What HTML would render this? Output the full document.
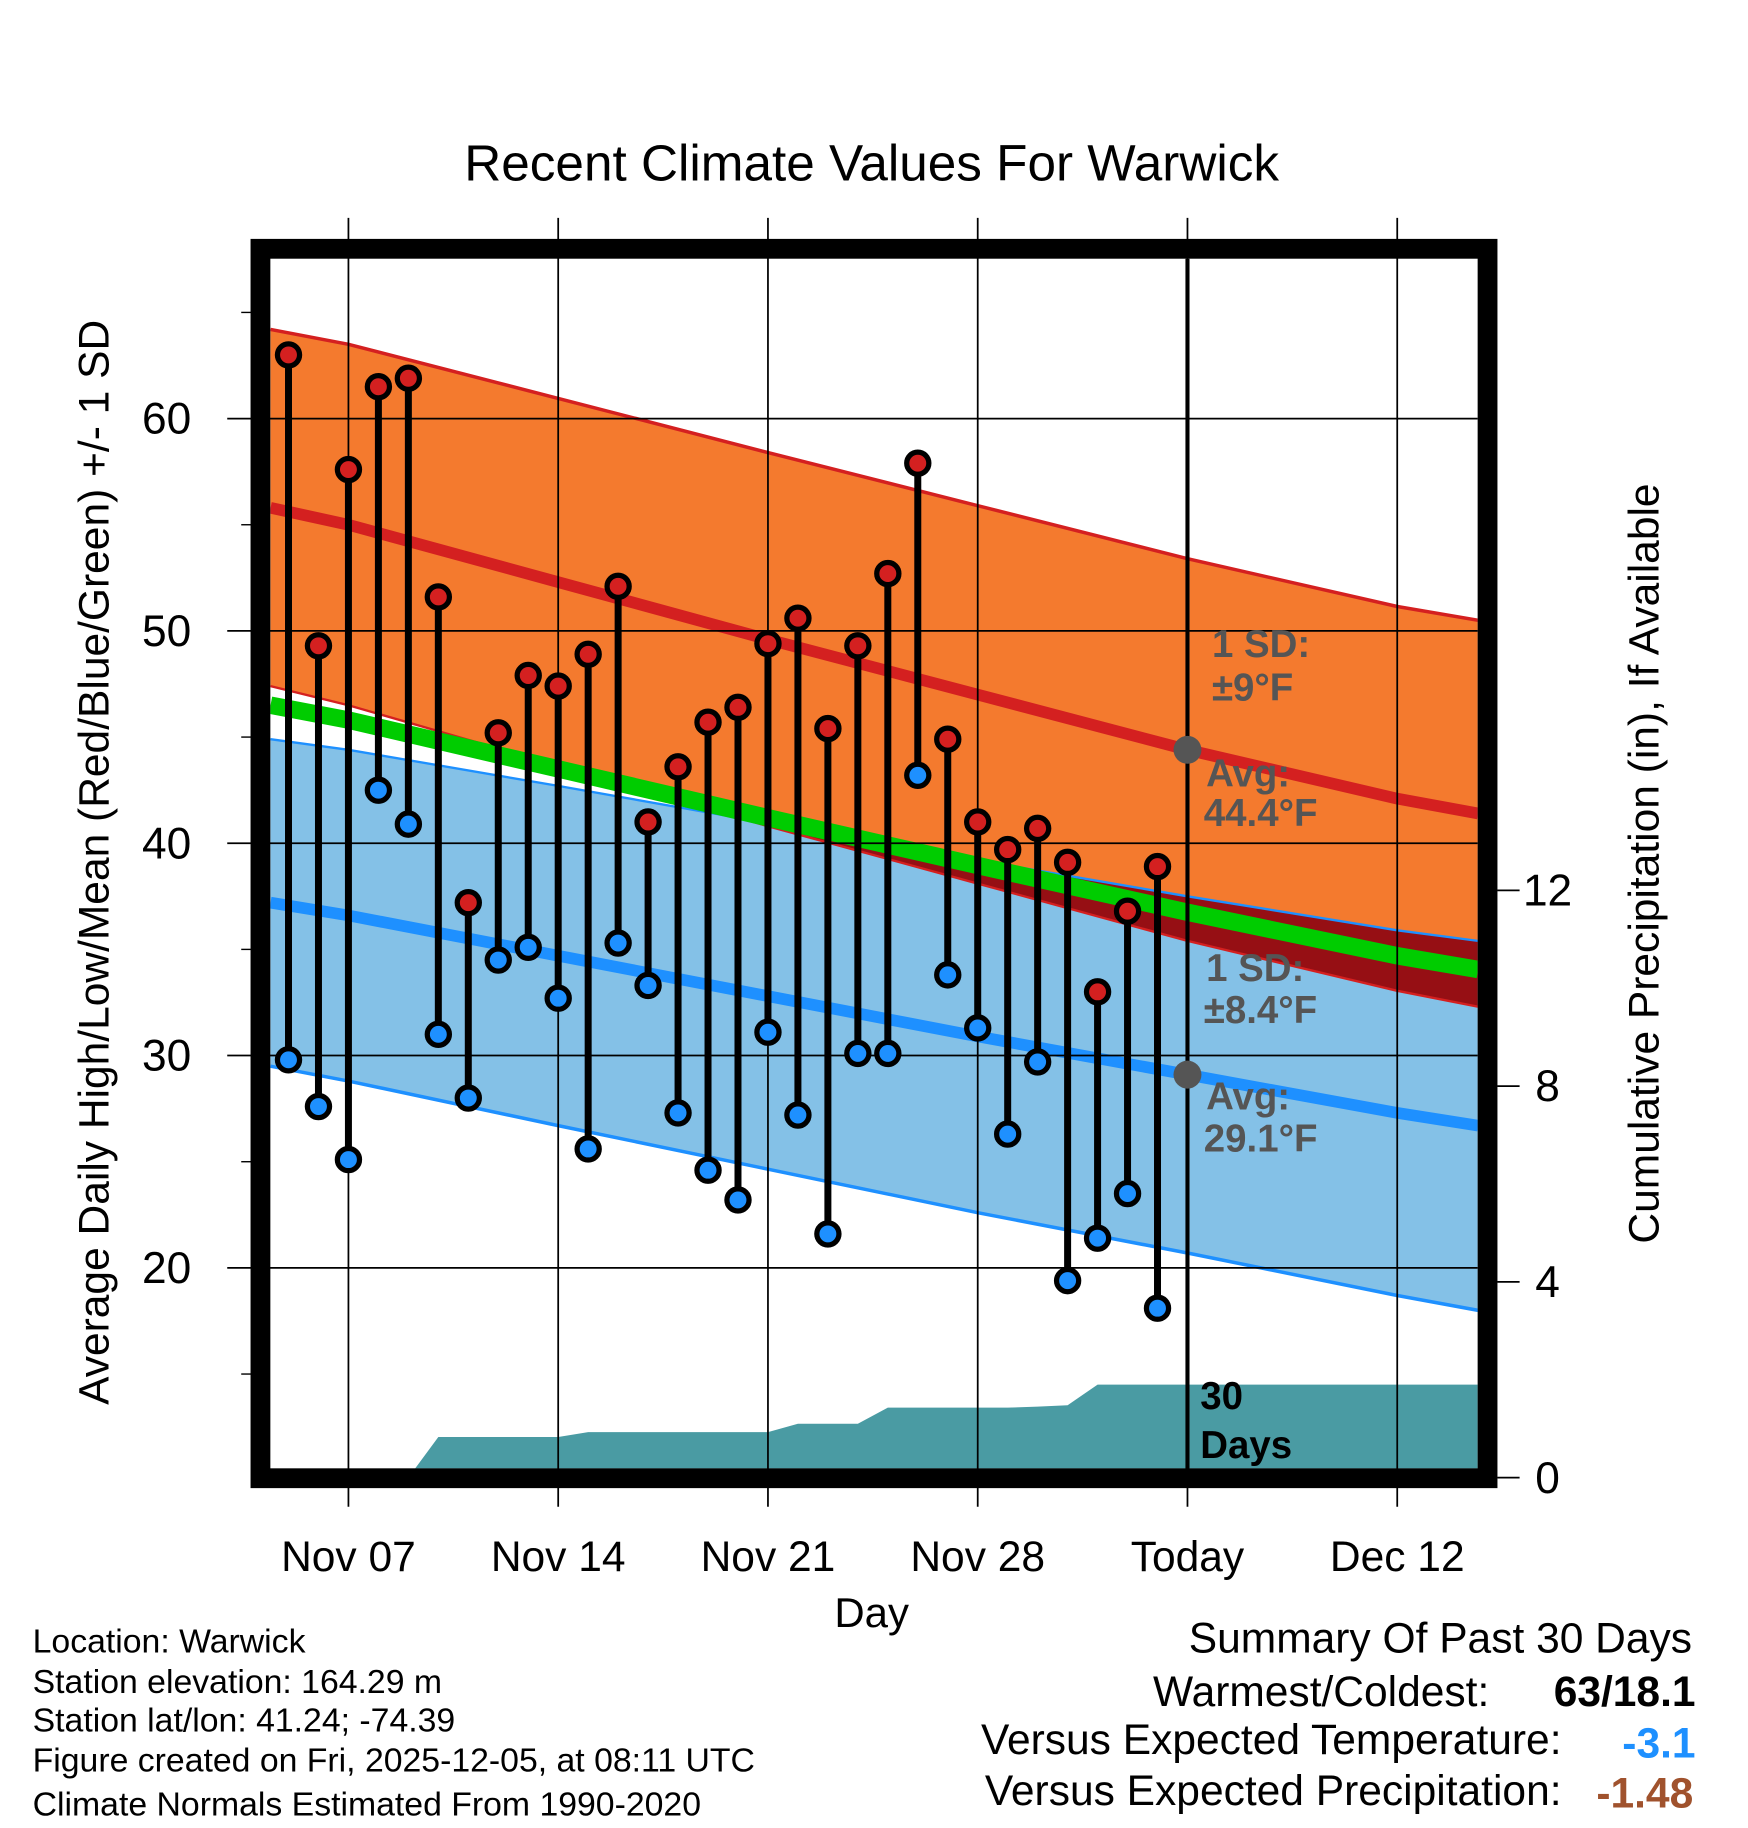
<!DOCTYPE html>
<html><head><meta charset="utf-8">
<style>html,body{margin:0;padding:0;background:#fff}svg{display:block}</style>
</head><body>
<svg id="chart" width="1748" height="1828" viewBox="0 0 1500 1568.65" xmlns="http://www.w3.org/2000/svg" font-family="'Liberation Sans', Arial, sans-serif">
<defs><clipPath id="plotclip"><rect x="232" y="222" width="1036" height="1038"/></clipPath></defs>
<g id="plot" clip-path="url(#plotclip)"></g>
<g id="overlay"></g>
<text x="748" y="155" font-size="44" text-anchor="middle">Recent Climate Values For Warwick</text>
<text x="748" y="1396" font-size="36" text-anchor="middle">Day</text>
<text transform="translate(93,740) rotate(-90)" font-size="36.5" text-anchor="middle">Average Daily High/Low/Mean (Red/Blue/Green) +/- 1 SD</text>
<text transform="translate(1423,741) rotate(-90)" font-size="36.5" text-anchor="middle">Cumulative Precipitation (in), If Available</text>
<g font-size="29">
<text x="28" y="1418">Location: Warwick</text>
<text x="28" y="1453">Station elevation: 164.29 m</text>
<text x="28" y="1486">Station lat/lon: 41.24; -74.39</text>
<text x="28" y="1520">Figure created on Fri, 2025-12-05, at 08:11 UTC</text>
<text x="28" y="1558">Climate Normals Estimated From 1990-2020</text>
</g>
<g font-size="36.5">
<text x="1452" y="1418" text-anchor="end">Summary Of Past 30 Days</text>
<text x="1278" y="1464" text-anchor="end">Warmest/Coldest:</text>
<text x="1455" y="1464" text-anchor="end" font-weight="bold">63/18.1</text>
<text x="1340" y="1505" text-anchor="end">Versus Expected Temperature:</text>
<text x="1455" y="1508" text-anchor="end" font-weight="bold" fill="#1e90ff">-3.1</text>
<text x="1340" y="1549" text-anchor="end">Versus Expected Precipitation:</text>
<text x="1453" y="1551" text-anchor="end" font-weight="bold" fill="#a0522d">-1.48</text>
</g>
</svg>
<script>
// ---- data ----
const days = ["Nov 05","Nov 06","Nov 07","Nov 08","Nov 09","Nov 10","Nov 11","Nov 12","Nov 13","Nov 14","Nov 15","Nov 16","Nov 17","Nov 18","Nov 19","Nov 20","Nov 21","Nov 22","Nov 23","Nov 24","Nov 25","Nov 26","Nov 27","Nov 28","Nov 29","Nov 30","Dec 01","Dec 02","Dec 03","Dec 04"];
const highs = [63,49.3,57.6,61.5,61.9,51.6,37.2,45.2,47.9,47.4,48.9,52.1,41.0,43.6,45.7,46.4,49.4,50.6,45.4,49.3,52.7,57.9,44.9,41.0,39.7,40.7,39.1,33.0,36.8,38.9];
const lows = [29.8,27.6,25.1,42.5,40.9,31.0,28.0,34.5,35.1,32.7,25.6,35.3,33.3,27.3,24.6,23.2,31.1,27.2,21.6,30.1,30.1,43.2,33.8,31.3,26.3,29.7,19.4,21.4,23.5,18.1];
const precip = [0,0,0,0,0,0.83,0.83,0.83,0.83,0.83,0.93,0.93,0.93,0.93,0.93,0.93,0.93,1.1,1.1,1.1,1.43,1.43,1.43,1.43,1.43,1.45,1.48,1.9,1.9,1.9];
// normals at day offsets relative to Nov 07 (left edge .. right edge)
const normDays = [-2.6,0,7,14,21,28,35,37.7];
const normHigh = [55.8,55.0,52.3,49.6,47.0,44.4,42.1,41.4];
const normLow  = [37.2,36.6,34.7,32.8,30.9,29.1,27.3,26.7];
const sdHigh = [8.4,8.5,8.65,8.8,8.9,9.0,9.05,9.1];
const sdLow = [7.7,7.8,8.0,8.15,8.3,8.4,8.6,8.7];
const xTickLabels = ["Nov 07","Nov 14","Nov 21","Nov 28","Today","Dec 12"];
const xTickDays = [0,7,14,21,28,35];
const yTicks = [20,30,40,50,60];
const yMinor = [15,25,35,45,55,65];
const pTicks = [0,4,8,12];
const firstDayOffset = -2; // Nov 05 relative to Nov 07
const todayOffset = 28;

// ---- scales ----
const X = d => 299 + d*180/7;
const Y = v => 1088 - (v-20)*18.22;
const P = v => 1268 - v*42.0;
const NS='http://www.w3.org/2000/svg';
const plot=document.getElementById('plot'), ov=document.getElementById('overlay'), svg=document.getElementById('chart');
function mk(tag,attrs,parent){const e=document.createElementNS(NS,tag);for(const k in attrs)e.setAttribute(k,attrs[k]);parent.appendChild(e);return e;}
const pts=(arr,f)=>normDays.map((d,i)=>X(d)+','+Y(f(i))).join(' ');
const rev=(arr)=>arr.split(' ').reverse().join(' ');

let hiUp=pts(normDays,i=>normHigh[i]+sdHigh[i]), hiLo=pts(normDays,i=>normHigh[i]-sdHigh[i]);
let loUp=pts(normDays,i=>normLow[i]+sdLow[i]), loLo=pts(normDays,i=>normLow[i]-sdLow[i]);
let e;
e=mk('polygon',{points:hiUp+' '+rev(hiLo),fill:'#f47a2e'},plot);


e=mk('polygon',{points:loUp+' '+rev(loLo),fill:'#84c1e7'},plot);


const cp=mk('clipPath',{id:'lowclip'},svg.querySelector('defs'));
mk('polygon',{points:loUp+' '+rev(loLo)},cp);
e=mk('polygon',{points:hiUp+' '+rev(hiLo),fill:'#960f14','clip-path':'url(#lowclip)'},plot);


e=mk('polyline',{points:hiUp,fill:'none',stroke:'#d42020','stroke-width':3},plot);


e=mk('polyline',{points:hiLo,fill:'none',stroke:'#d42020','stroke-width':2},plot);


e=mk('polyline',{points:loUp,fill:'none',stroke:'#1e90ff','stroke-width':2},plot);


e=mk('polyline',{points:loLo,fill:'none',stroke:'#1e90ff','stroke-width':3},plot);


e=mk('polyline',{points:pts(normDays,i=>(normHigh[i]+normLow[i])/2),fill:'none',stroke:'#00cc00','stroke-width':15},plot);


e=mk('polyline',{points:pts(normDays,i=>normHigh[i]),fill:'none',stroke:'#d42020','stroke-width':10},plot);


e=mk('polyline',{points:pts(normDays,i=>normLow[i]),fill:'none',stroke:'#1e90ff','stroke-width':10},plot);



// precip area
let pp=[X(-2.6)+','+P(0)];
precip.forEach((v,i)=>pp.push(X(firstDayOffset+i)+','+P(v)));
pp.push(X(37.7)+','+P(precip[precip.length-1]));
e=mk('polygon',{points:pp.join(' ')+' '+X(37.7)+',1262 '+X(-2.6)+',1262',fill:'#4a9ba3'},plot);



// grid
yTicks.forEach(v=>{
  e=mk('line',{x1:195,x2:1268,y1:Y(v),y2:Y(v),stroke:'#000','stroke-width':1.5},ov);
  
  
  e=mk('text',{x:143,y:Y(v)+13,'font-size':38,'text-anchor':'middle'},ov);e.textContent=v;
  
  
});
yMinor.forEach(v=>{
  e=mk('line',{x1:207,x2:216,y1:Y(v),y2:Y(v),stroke:'#000','stroke-width':1.2},ov);
  
  
});
xTickDays.forEach((d,i)=>{
  e=mk('line',{x1:X(d),x2:X(d),y1:187,y2:1293,stroke:'#000','stroke-width':1.5},ov);
  
  
  e=mk('text',{x:X(d),y:1348,'font-size':36.5,'text-anchor':'middle'},ov);e.textContent=xTickLabels[i];
  
  
});
pTicks.forEach(v=>{
  e=mk('line',{x1:1285,x2:1304,y1:P(v),y2:P(v),stroke:'#000','stroke-width':1.5},ov);
  
  
  e=mk('text',{x:1328,y:P(v)+13,'font-size':38,'text-anchor':'middle'},ov);e.textContent=v;
  
  
});
e=mk('line',{x1:X(todayOffset),x2:X(todayOffset),y1:222,y2:1262,stroke:'#000','stroke-width':3.5},ov);



// stems and markers
highs.forEach((h,i)=>{
  const x=X(firstDayOffset+i);
  e=mk('line',{x1:x,x2:x,y1:Y(h),y2:Y(lows[i]),stroke:'#000','stroke-width':6},ov);
  
  
});
highs.forEach((h,i)=>{
  const x=X(firstDayOffset+i);
  e=mk('circle',{cx:x,cy:Y(h),r:9.5,fill:'#d42020',stroke:'#000','stroke-width':4.5},ov);
  
  
  e=mk('circle',{cx:x,cy:Y(lows[i]),r:9.5,fill:'#1e90ff',stroke:'#000','stroke-width':4.5},ov);
  
  
});
const todayIdx=5;
[normHigh[todayIdx],normLow[todayIdx]].forEach(v=>{
  e=mk('circle',{cx:X(todayOffset),cy:Y(v),r:12,fill:'#555'},ov);
  
  
});
const ann=[["1 SD:",1040,564],["±9°F",1040,601],["Avg:",1035,675],["44.4°F",1033,709],["1 SD:",1035,842],["±8.4°F",1033,878],["Avg:",1035,952],["29.1°F",1033,988]];
ann.forEach(a=>{
  e=mk('text',{x:a[1],y:a[2],'font-size':33,'font-weight':'bold',fill:'#555'},ov);e.textContent=a[0];
  
  
});
[["30",1209],["Days",1251]].forEach(a=>{
  e=mk('text',{x:1030,y:a[1],'font-size':33,'font-weight':'bold',fill:'#000'},ov);e.textContent=a[0];
  
  
});
e=mk('rect',{x:223.5,y:213.5,width:1053,height:1055,fill:'none',stroke:'#000','stroke-width':17},ov);


</script>
</body></html>
